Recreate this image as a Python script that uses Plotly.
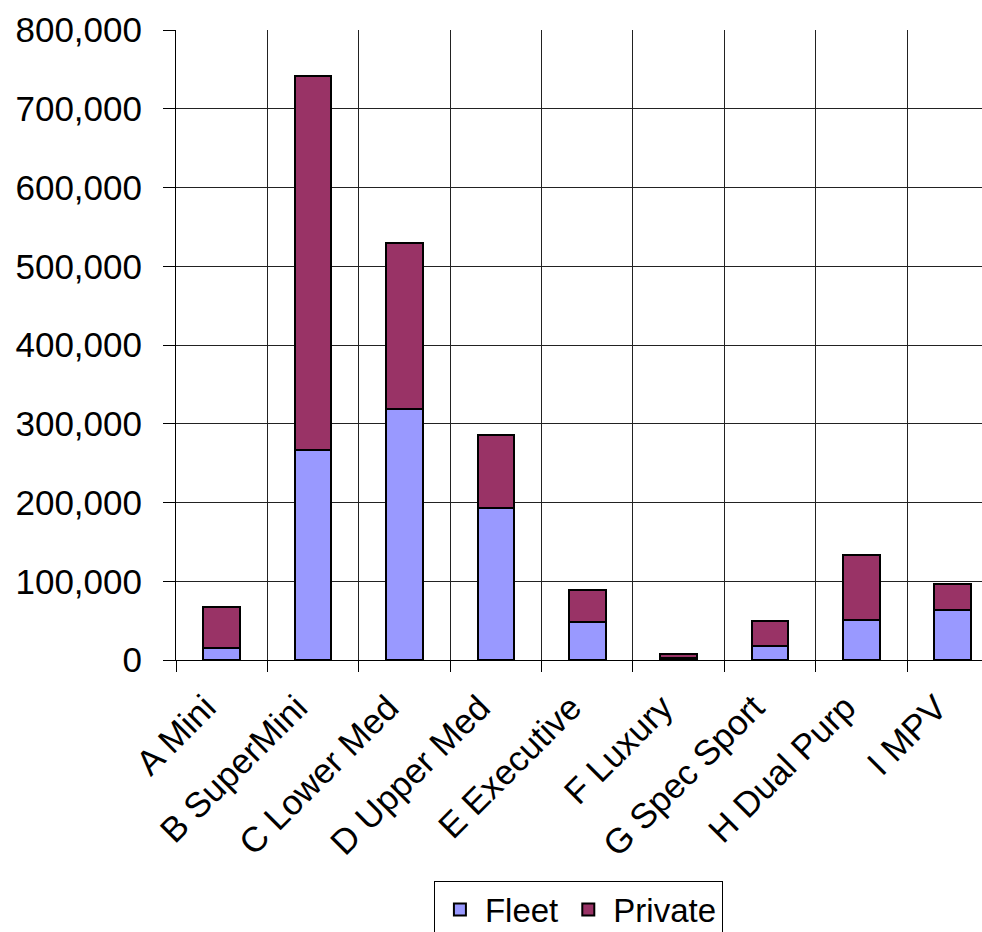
import plotly.graph_objects as go

# Car segment registrations, split by buyer type
segments = ["A Mini", "B SuperMini", "C Lower Med", "D Upper Med", "E Executive",
            "F Luxury", "G Spec Sport", "H Dual Purp", "I MPV"]
fleet = [15000, 267000, 319000, 193000, 48000, 3000, 18000, 51000, 63000]
private = [52000, 475000, 211000, 93000, 41000, 4000, 31000, 82000, 34000]

y_ticks = [0, 100000, 200000, 300000, 400000, 500000, 600000, 700000, 800000]

FONT = "Liberation Sans, Arial, sans-serif"
outline = dict(color="black", width=2)

fig = go.Figure()
fig.add_trace(go.Bar(name="Fleet", x=segments, y=fleet,
                     marker=dict(color="#9999FF", line=outline)))
fig.add_trace(go.Bar(name="Private", x=segments, y=private,
                     marker=dict(color="#993366", line=outline)))

fig.update_layout(
    barmode="stack",
    bargap=0.6,
    width=982,
    height=932,
    margin=dict(l=176, r=0, t=30, b=272, autoexpand=False),
    paper_bgcolor="white",
    plot_bgcolor="white",
    font=dict(family=FONT, size=35, color="black"),
    legend=dict(
        orientation="h",
        traceorder="normal",
        x=0.32, xanchor="left",
        y=-0.350, yanchor="top",
        bordercolor="black", borderwidth=1,
        font=dict(size=33),
        itemwidth=40,
    ),
    showlegend=True,
)

fig.update_xaxes(
    type="category",
    range=[-0.5, 8.32],
    automargin=False,
    tickson="boundaries",
    ticks="outside", ticklen=11, tickcolor="black",
    ticklabelshift=-16,
    ticklabelstandoff=12,
    showgrid=True, gridcolor="#222", gridwidth=1,
    showline=True, linecolor="black", linewidth=1,
    tickangle=-45,
    tickfont=dict(size=35),
)
fig.update_yaxes(
    range=[0, 800000],
    automargin=False,
    tickvals=y_ticks,
    tickformat=",d",
    ticks="outside", ticklen=12, tickcolor="black",
    ticklabelstandoff=14,
    showgrid=True, gridcolor="#222", gridwidth=1,
    showline=True, linecolor="black", linewidth=1,
    zeroline=False,
    tickfont=dict(size=35),
)

fig.write_html("out.html")
